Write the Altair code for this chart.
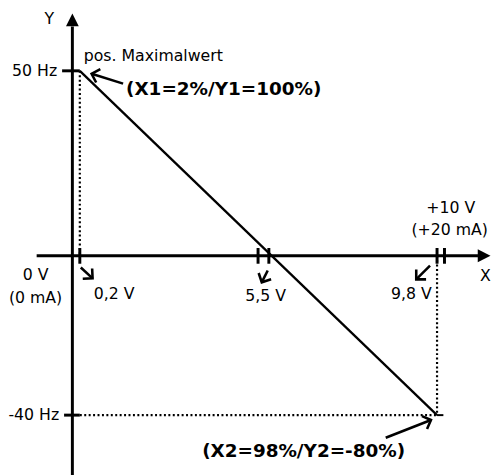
import altair as alt
import pandas as pd

# ---------------- data (volts on x, hertz on y) ----------------
curve_v = [0.2, 9.8]
curve_hz = [50, -40]

# axis lines (start -> end)
axis_x1 = [0.0, -0.96]
axis_y1 = [-56.0, 0.0]
axis_x2 = [0.0, 10.9]
axis_y2 = [62.0, 0.0]

# axis arrow heads
yarrow_v, yarrow_hz = [0.0], [63.8]
xarrow_v, xarrow_hz = [11.065], [0.0]

# value ticks on the y axis
ytick_hz = [50, -40]
ytick_from = [-0.276, -0.223]
ytick_to = [0.2, 0.2]

# value ticks on the x axis
xtick_v = [0.2, 4.99, 5.28, 9.8, 10.0]

# dotted guide lines
dot_x1 = [0.2, 0.2, 9.8]
dot_y1 = [50, -40, 0]
dot_x2 = [0.2, 9.8, 9.8]
dot_y2 = [0, -40, -40]

# short end mark at the lower end point
end_x1, end_x2, end_y = [9.8], [9.97], [-40]

# annotation arrows (tail -> head)
arr_x1 = [1.363, 0.226, 5.249, 9.611, 8.421]
arr_y1 = [46.54, -2.96, -3.70, -2.47, -45.68]
arr_x2 = [0.517, 0.543, 5.09, 9.241, 9.637]
arr_y2 = [49.2, -5.68, -6.67, -5.93, -41.23]
arr_angle = [197.4, 42.5, 116.6, 135.0, 338.6]

# labels
labels = ["Y", "X", "0 V", "(0 mA)", "0,2 V", "5,5 V", "9,8 V", "+10 V", "(+20 mA)",
          "50 Hz", "-40 Hz", "pos. Maximalwert", "(X1=2%/Y1=100%)", "(X2=98%/Y2=-80%)"]
label_v = [-0.62, 11.1, -0.99, -0.99, 1.125, 5.196, 9.109, 10.166, 10.14,
           -0.408, -0.355, 0.306, 1.442, 6.214]
label_hz = [64.1, -5.19, -4.94, -10.62, -9.63, -10.12, -9.63, 12.77, 6.91,
            50, -40, 53.99, 44.95, -49.13]
label_group = ["c", "c", "c", "c", "c", "c", "c", "c", "c",
               "r", "r", "l", "lb", "cb"]

# ---------------- chart ----------------
xs = alt.Scale(domain=[-1.73, 11.25], nice=False, zero=False)
ys = alt.Scale(domain=[-40, 0, 50], range=[410, 248, 60], nice=False, zero=False)
FONT = "DejaVu Sans"


def X(f):
    return alt.X(f, type="quantitative", scale=xs, axis=None)


def Y(f):
    return alt.Y(f, type="quantitative", scale=ys, axis=None)


base_rule = dict(color="black")

axes_df = pd.DataFrame({"x": axis_x1, "y": axis_y1, "x2": axis_x2, "y2": axis_y2})
axes = alt.Chart(axes_df).mark_rule(strokeWidth=3, **base_rule).encode(
    x=X("x"), y=Y("y"), x2="x2", y2="y2")

yarrow = alt.Chart(pd.DataFrame({"x": yarrow_v, "y": yarrow_hz})).mark_point(
    shape="M0,-1L1,1L-1,1Z", filled=True, size=169, color="black", opacity=1,
    strokeWidth=0).encode(x=X("x"), y=Y("y"))
xarrow = alt.Chart(pd.DataFrame({"x": xarrow_v, "y": xarrow_hz})).mark_point(
    shape="M1,0L-1,-1L-1,1Z", filled=True, size=169, color="black", opacity=1,
    strokeWidth=0).encode(x=X("x"), y=Y("y"))

yt = alt.Chart(pd.DataFrame({"x": ytick_from, "x2": ytick_to, "y": ytick_hz})).mark_rule(
    strokeWidth=3, **base_rule).encode(x=X("x"), x2="x2", y=Y("y"))

xt_df = pd.DataFrame({"x": xtick_v, "y": [-2.0] * len(xtick_v), "y2": [2.1] * len(xtick_v)})
xt = alt.Chart(xt_df).mark_rule(strokeWidth=3, **base_rule).encode(
    x=X("x"), y=Y("y"), y2="y2")

curve = alt.Chart(pd.DataFrame({"x": curve_v, "y": curve_hz})).mark_line(
    strokeWidth=2.3, color="black").encode(x=X("x"), y=Y("y"))

dots = alt.Chart(pd.DataFrame({"x": dot_x1, "y": dot_y1, "x2": dot_x2, "y2": dot_y2})).mark_rule(
    strokeWidth=2.2, strokeDash=[2, 2.5], **base_rule).encode(x=X("x"), y=Y("y"), x2="x2", y2="y2")

endm = alt.Chart(pd.DataFrame({"x": end_x1, "x2": end_x2, "y": end_y})).mark_rule(
    strokeWidth=2, **base_rule).encode(x=X("x"), x2="x2", y=Y("y"))

arr_df = pd.DataFrame({"x": arr_x1, "y": arr_y1, "x2": arr_x2, "y2": arr_y2, "a": arr_angle})
shafts = alt.Chart(arr_df).mark_rule(strokeWidth=2.6, **base_rule).encode(
    x=X("x"), y=Y("y"), x2="x2", y2="y2")
heads = alt.Chart(arr_df).mark_point(
    shape="M-1,-1L0,0L-1,1", filled=False, size=200, color="black", opacity=1,
    strokeWidth=2.6).encode(x=X("x2"), y=Y("y2"), angle=alt.Angle("a:Q", scale=None))

lab_df = pd.DataFrame({"t": labels, "x": label_v, "y": label_hz, "g": label_group})


def text_layer(group, align, size, weight):
    return alt.Chart(lab_df).transform_filter(alt.datum.g == group).mark_text(
        align=align, baseline="middle", font=FONT, fontSize=size, fontWeight=weight,
        color="black").encode(x=X("x"), y=Y("y"), text="t:N")


texts = [
    text_layer("c", "center", 16, "normal"),
    text_layer("r", "right", 16, "normal"),
    text_layer("l", "left", 16, "normal"),
    text_layer("lb", "left", 18.7, "bold"),
    text_layer("cb", "center", 18.7, "bold"),
]

chart = alt.layer(dots, endm, curve, axes, yarrow, xarrow, yt, xt, shafts, heads, *texts).properties(
    width=491, height=467, padding=0,
    autosize=alt.AutoSizeParams(type="none"),
).configure_view(strokeWidth=0)

chart.save("out.html", embed_options={"renderer": "svg", "actions": False})
